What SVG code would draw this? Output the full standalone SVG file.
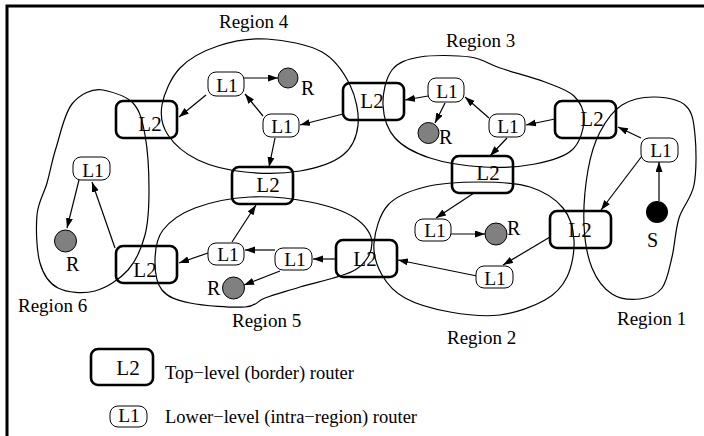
<svg xmlns="http://www.w3.org/2000/svg" width="704" height="436" viewBox="0 0 704 436">
<style>
text{font-family:"Liberation Serif","Times New Roman",serif;fill:#000}
.reg{fill:none;stroke:#000;stroke-width:1.2}
.rl{font-size:19px}
.l2{fill:none;stroke:#000;stroke-width:2.6}
.l1{fill:#fff;stroke:#000;stroke-width:1}
.nl{font-size:19.5px;text-anchor:middle}
.n2{font-size:21px;text-anchor:middle}
.rs{font-size:20px}
.rc{fill:#808080;stroke:#000;stroke-width:1}
.cn{fill:none;stroke:#000;stroke-width:1.2;marker-end:url(#ah)}
.lg{font-size:18.5px}
</style>
<defs>
<marker id="ah" markerUnits="userSpaceOnUse" markerWidth="11" markerHeight="8" refX="10" refY="3.5" orient="auto">
<path d="M0,0 L10,3.5 L0,7 z" fill="#000"/>
</marker>
</defs>
<rect width="704" height="436" fill="#fff"/>
<path d="M7,436 V6 H704" fill="none" stroke="#000" stroke-width="3"/>

<g id="region1">
<path class="reg" d="M655,97 C665.7,97.2 679.3,99.7 686,106 C692.7,112.3 693.7,121.8 695,135 C696.3,148.2 696.7,171.2 694,185 C691.3,198.8 682.7,206 679,218 C675.3,230 674.8,245.3 672,257 C669.2,268.7 667.3,281 662,288 C656.7,295 648.3,298 640,299 C631.7,300 620,299.2 612,294 C604,288.8 596.7,279.5 592,268 C587.3,256.5 584.7,241.3 584,225 C583.3,208.7 585.3,185.5 588,170 C590.7,154.5 594.3,142.8 600,132 C605.7,121.2 612.8,110.8 622,105 C631.2,99.2 644.3,96.8 655,97 Z"/>
<text class="rl" x="617" y="325">Region 1</text>
</g>
<g id="region2">
<path class="reg" d="M480,182 C497.5,182 516.2,182.7 530,187 C543.8,191.3 555.7,199.2 563,208 C570.3,216.8 573.3,228.5 574,240 C574.7,251.5 571.8,267 567,277 C562.2,287 556.2,293.7 545,300 C533.8,306.3 515.8,313 500,315 C484.2,317 465.8,314.8 450,312 C434.2,309.2 416.3,304.2 405,298 C393.7,291.8 387.2,284.2 382,275 C376.8,265.8 373,254.7 374,243 C375,231.3 379.5,214.3 388,205 C396.5,195.7 409.7,190.8 425,187 C440.3,183.2 462.5,182 480,182 Z"/>
<text class="rl" x="447" y="344">Region 2</text>
</g>
<g id="region3">
<path class="reg" d="M470,57 C483.3,58.8 487.5,63.8 500,68 C512.5,72.2 532.7,77.3 545,82 C557.3,86.7 567.5,89.7 574,96 C580.5,102.3 584.3,111 584,120 C583.7,129 580.2,142.7 572,150 C563.8,157.3 549.8,161.2 535,164 C520.2,166.8 500.5,168 483,167 C465.5,166 444.7,162.8 430,158 C415.3,153.2 402.8,146.8 395,138 C387.2,129.2 383.5,116.3 383,105 C382.5,93.7 385.8,78 392,70 C398.2,62 407,59.2 420,57 C433,54.8 456.7,55.2 470,57 Z"/>
<text class="rl" x="446" y="47">Region 3</text>
</g>
<g id="region4">
<path class="reg" d="M267,39 C284.3,40 308.2,44.3 322,52 C335.8,59.7 344,72.8 350,85 C356,97.2 359.2,113.3 358,125 C356.8,136.7 352.7,147.3 343,155 C333.3,162.7 316.3,168.2 300,171 C283.7,173.8 262,173.8 245,172 C228,170.2 210.8,166.2 198,160 C185.2,153.8 174,144.2 168,135 C162,125.8 160,116.2 162,105 C164,93.8 170.7,77.8 180,68 C189.3,58.2 203.5,50.8 218,46 C232.5,41.2 249.7,38 267,39 Z"/>
<text class="rl" x="219" y="28">Region 4</text>
</g>
<g id="region5">
<path class="reg" d="M250,197 C269.2,196 292.5,198.5 310,202 C327.5,205.5 344.7,211.2 355,218 C365.3,224.8 372,234.3 372,243 C372,251.7 367,262.7 355,270 C343,277.3 315,282.3 300,287 C285,291.7 274.2,294.7 265,298 C255.8,301.3 257.5,306.2 245,307 C232.5,307.8 203.8,305.8 190,303 C176.2,300.2 167.8,297.2 162,290 C156.2,282.8 154.8,270 155,260 C155.2,250 156.3,238.7 163,230 C169.7,221.3 180.5,213.5 195,208 C209.5,202.5 230.8,198 250,197 Z"/>
<text class="rl" x="232" y="327">Region 5</text>
</g>
<g id="region6">
<path class="reg" d="M103,90 C113.2,92.2 126,95.5 133,103 C140,110.5 142.3,120.5 145,135 C147.7,149.5 149,173.3 149,190 C149,206.7 148.5,221.7 145,235 C141.5,248.3 136.3,260.7 128,270 C119.7,279.3 106.7,288 95,291 C83.3,294 67.2,292.7 58,288 C48.8,283.3 43.5,275.2 40,263 C36.5,250.8 35.8,228.3 37,215 C38.2,201.7 43.8,194.2 47,183 C50.2,171.8 51.8,161.2 56,148 C60.2,134.8 64.2,113.7 72,104 C79.8,94.3 92.8,87.8 103,90 Z"/>
<text class="rl" x="18" y="312">Region 6</text>
</g>

<g id="connectors">
<path class="cn" d="M244,78 L278,78"/>
<path class="cn" d="M206,95 L179,117"/>
<path class="cn" d="M263,116 L245,94"/>
<path class="cn" d="M343,114 L300,125"/>
<path class="cn" d="M275,138 L269,167"/>
<path class="cn" d="M428,96 L405,100"/>
<path class="cn" d="M445,103 L435,123"/>
<path class="cn" d="M489,118 L465,97"/>
<path class="cn" d="M555,119 L526,125"/>
<path class="cn" d="M507,138 L490,156"/>
<path class="cn" d="M641,138 L618,127"/>
<path class="cn" d="M642,156 L601,210"/>
<path class="cn" d="M659,201 L659,162"/>
<path class="cn" d="M474,193 L436,218"/>
<path class="cn" d="M451,234 L485,234"/>
<path class="cn" d="M550,237 L503,265"/>
<path class="cn" d="M477,276 L398,260"/>
<path class="cn" d="M336,259 L313,259"/>
<path class="cn" d="M275,250 L245,250"/>
<path class="cn" d="M280,271 L244,285"/>
<path class="cn" d="M232,242 L256,205"/>
<path class="cn" d="M208,253 L179,263"/>
<path class="cn" d="M115,248 L92,182"/>
<path class="cn" d="M79,180 L67,228"/>
</g>

<g id="l2-r4r6"><rect class="l2" x="116" y="101" width="61" height="37" rx="7"/><text class="n2" x="150" y="131">L2</text></g>
<g id="l2-r4r3"><rect class="l2" x="343" y="83" width="61" height="37" rx="7"/><text class="n2" x="372" y="108">L2</text></g>
<g id="l2-r3r1"><rect class="l2" x="555" y="101" width="61" height="37" rx="7"/><text class="n2" x="592" y="126">L2</text></g>
<g id="l2-r3r2"><rect class="l2" x="452" y="156" width="61" height="37" rx="7"/><text class="n2" x="488" y="180">L2</text></g>
<g id="l2-r4r5"><rect class="l2" x="232" y="167" width="61" height="37" rx="7"/><text class="n2" x="268" y="192">L2</text></g>
<g id="l2-r6r5"><rect class="l2" x="116" y="246" width="61" height="37" rx="7"/><text class="n2" x="145" y="277">L2</text></g>
<g id="l2-r5r2"><rect class="l2" x="336" y="240" width="61" height="37" rx="7"/><text class="n2" x="365" y="266">L2</text></g>
<g id="l2-r2r1"><rect class="l2" x="550" y="211" width="61" height="37" rx="7"/><text class="n2" x="580" y="237">L2</text></g>

<g id="l1-r4a"><rect class="l1" x="208" y="72" width="36" height="24" rx="8"/><text class="nl" x="227" y="92">L1</text></g>
<g id="l1-r4b"><rect class="l1" x="263" y="114" width="36" height="23" rx="8"/><text class="nl" x="282" y="133">L1</text></g>
<g id="l1-r3a"><rect class="l1" x="428" y="78" width="36" height="24" rx="8"/><text class="nl" x="447" y="98">L1</text></g>
<g id="l1-r3b"><rect class="l1" x="489" y="114" width="36" height="23" rx="8"/><text class="nl" x="508" y="133">L1</text></g>
<g id="l1-r1"><rect class="l1" x="641" y="138" width="37" height="24" rx="8"/><text class="nl" x="661" y="157">L1</text></g>
<g id="l1-r6"><rect class="l1" x="73" y="157" width="37" height="23" rx="8"/><text class="nl" x="93" y="177">L1</text></g>
<g id="l1-r2a"><rect class="l1" x="415" y="219" width="36" height="22" rx="8"/><text class="nl" x="435" y="237">L1</text></g>
<g id="l1-r2b"><rect class="l1" x="476" y="266" width="37" height="22" rx="8"/><text class="nl" x="495" y="285">L1</text></g>
<g id="l1-r5a"><rect class="l1" x="208" y="243" width="36" height="22" rx="8"/><text class="nl" x="228" y="261">L1</text></g>
<g id="l1-r5b"><rect class="l1" x="275" y="248" width="37" height="22" rx="8"/><text class="nl" x="295" y="266">L1</text></g>

<g id="r-r4"><circle class="rc" cx="288" cy="78" r="10"/><text class="rs" x="301" y="95">R</text></g>
<g id="r-r3"><circle class="rc" cx="428.5" cy="133" r="10.5"/><text class="rs" x="439" y="144">R</text></g>
<g id="r-r6"><circle class="rc" cx="65.5" cy="241" r="11"/><text class="rs" x="66" y="271">R</text></g>
<g id="r-r5"><circle class="rc" cx="233.5" cy="288" r="11"/><text class="rs" x="207" y="295">R</text></g>
<g id="r-r2"><circle class="rc" cx="496" cy="234" r="11"/><text class="rs" x="507" y="235">R</text></g>
<g id="s-r1"><circle cx="657" cy="212" r="11" fill="#000"/><text class="rs" x="647" y="247">S</text></g>

<g id="legend-l2"><rect class="l2" x="91" y="349" width="62" height="36" rx="7"/><text class="n2" x="128" y="375">L2</text><text class="lg" x="165" y="379">Top−level (border) router</text></g>
<g id="legend-l1"><rect class="l1" x="110" y="406" width="37" height="21" rx="8"/><text class="nl" x="129" y="422">L1</text><text class="lg" x="165" y="423">Lower−level (intra−region) router</text></g>
</svg>
